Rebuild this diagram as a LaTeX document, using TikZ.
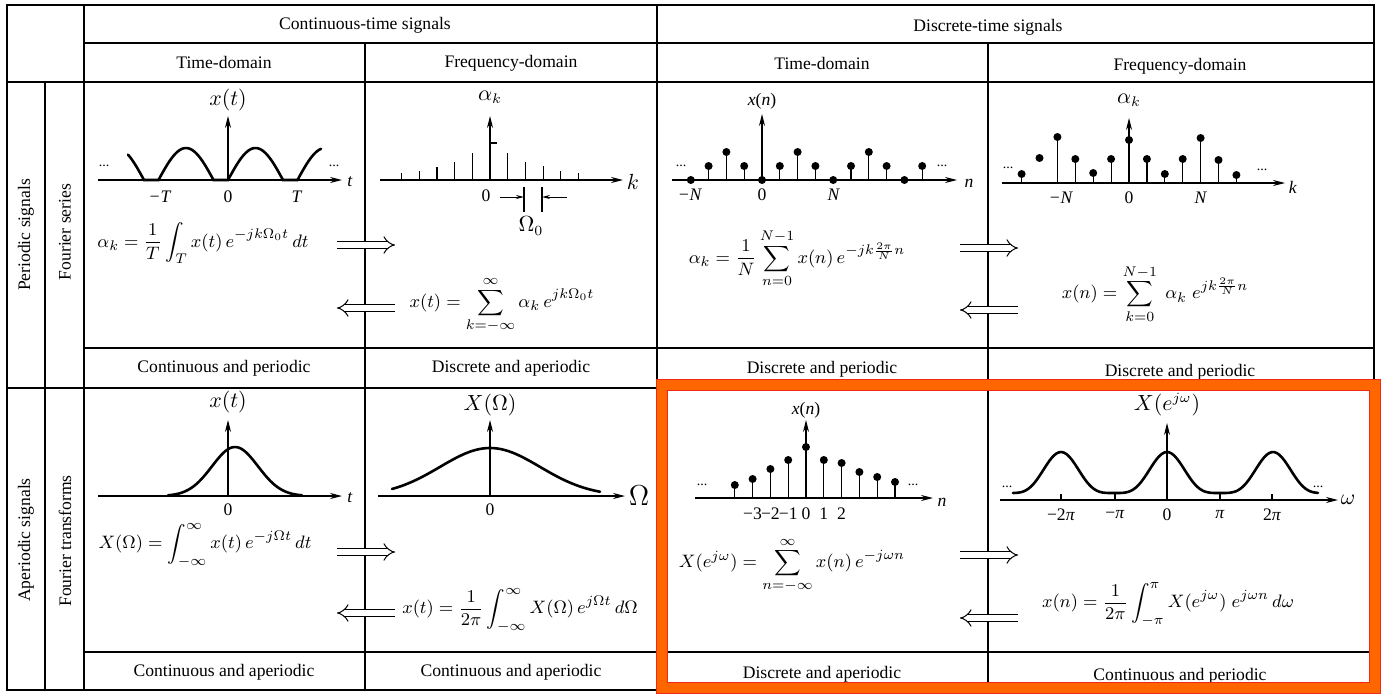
\documentclass[tikz,border=0pt]{standalone}
\usepackage{amsmath}
\usepackage{fontspec}
\setmainfont{Liberation Serif}
\usetikzlibrary{arrows.meta}

\definecolor{hilite}{RGB}{255,102,0}
\definecolor{hiliteedge}{RGB}{240,40,20}

\begin{document}
\begin{tikzpicture}[x=0.5pt, y=-0.5pt,
    grid/.style={line width=1.1pt},
    hdr/.style={font=\fontsize{8.8}{10}\selectfont},
    side/.style={font=\fontsize{8.8}{10}\selectfont, rotate=90},
    lbl/.style={font=\fontsize{8.8}{10}\selectfont, inner sep=1pt},
    big/.style={font=\fontsize{10.5}{12}\selectfont, inner sep=1pt},
    frm/.style={font=\fontsize{9.5}{11}\selectfont, inner sep=1pt},
    axis/.style={line width=0.6pt, -{Stealth[length=6pt, width=3pt]}},
    sig/.style={line width=1.3pt, line cap=round},
    stem/.style={line width=0.6pt},
    gap/.style={line width=0.5pt, -{Stealth[length=4pt, width=2pt]}},
    dblarrow/.style={double, double distance=2.6pt, line width=0.5pt, -{Implies}},
    dotsgn/.style={font=\fontsize{7}{8}\selectfont, inner sep=0pt}]
  \useasboundingbox (0,0) rectangle (1385,696);

  % table frame
  \draw[grid] (7,5) rectangle (1374,690);
  \draw[grid] (84,5) -- (84,690);
  \draw[grid] (657,5) -- (657,690);
  \draw[grid] (365,43) -- (365,690);
  \draw[grid] (988,43) -- (988,690);
  \draw[grid] (45,82) -- (45,690);
  \draw[grid] (84,43) -- (1374,43);
  \draw[grid] (7,82) -- (1374,82);
  \draw[grid] (84,348) -- (1374,348);
  \draw[grid] (7,388) -- (1374,388);
  \draw[grid] (84,652) -- (1374,652);

  % headers
  \node[hdr] (hct) at (365,25) {Continuous-time signals};
  \node[hdr] (hdt) at (988,27) {Discrete-time signals};
  \node[hdr] (hctt) at (224,62) {Time-domain};
  \node[hdr] (hctf) at (511,63) {Frequency-domain};
  \node[hdr] (hdtt) at (822,63) {Time-domain};
  \node[hdr] (hdtf) at (1180,66) {Frequency-domain};

  % row labels
  \node[side] (sper) at (26,235) {Periodic signals};
  \node[side] (sfs) at (65,232) {Fourier series};
  \node[side] (saper) at (26,540) {Aperiodic signals};
  \node[side] (sft) at (65,541) {Fourier transforms};

  % cell captions
  \node[hdr] (bctt) at (224,368) {Continuous and periodic};
  \node[hdr] (bctf) at (511,368) {Discrete and aperiodic};
  \node[hdr] (bdtt) at (822,369) {Discrete and periodic};
  \node[hdr] (bdtf) at (1180,372) {Discrete and periodic};
  \node[hdr] (cctt) at (224,672) {Continuous and aperiodic};
  \node[hdr] (cctf) at (511,672) {Continuous and aperiodic};
  \node[hdr] (cdtt) at (822,674) {Discrete and aperiodic};
  \node[hdr] (cdtf) at (1180,676) {Continuous and periodic};

  % periodic, continuous time
  \draw[axis] (98,180) -- (342,180);
  \draw[axis] (228,180) -- (228,116);
  \node[lbl] (pct) at (350,182) {\textit{t}};
  \node[big] (pcx) at (228,100) {$x(t)$};
  \draw[sig] plot[domain=128:144, samples=10] (\x,{180-32*sin(180*(\x-89)/55)}) -- (158.5,180)
    -- plot[domain=158.5:213.5, samples=30] (\x,{180-32*sin(180*(\x-158.5)/55)}) -- (228,180)
    -- plot[domain=228:283, samples=30] (\x,{180-32*sin(180*(\x-228)/55)}) -- (297.5,180)
    -- plot[domain=297.5:321, samples=14] (\x,{180-32*sin(180*(\x-297.5)/55)});
  \node[lbl] (pcmT) at (160,197) {\textit{−T}};
  \node[lbl] (pc0) at (228,197) {0};
  \node[lbl] (pcT) at (297,197) {\textit{T}};
  \node[dotsgn] (pcdl) at (104,166) {...};
  \node[dotsgn] (pcdr) at (334,166) {...};
  \node[frm] (pcf) at (203,243) {$\alpha_k=\dfrac{1}{T}\displaystyle\int_{T}x(t)\,e^{-jk\Omega_0 t}\,dt$};

  % periodic, continuous frequency
  \draw[axis] (380,180) -- (623,180);
  \draw[axis] (490,180) -- (490,116);
  \node[big] (pfk) at (633,182) {$k$};
  \node[big] (pfa) at (490,97) {$\alpha_k$};
  \draw[stem] (490,143) -- (497,143);
  \foreach \i/\h in {-5/7,-4/9,-3/13,-2/18,-1/27,1/27,2/18,3/14,4/9,5/7}
    \draw[stem] ({490+17.7*\i},180) -- ++(0,-\h);
  \node[lbl] (pf0) at (486,196) {0};
  \draw[stem] (524,187) -- (524,212);
  \draw[stem] (542,187) -- (542,212);
  \draw[gap] (500,197) -- (524,197);
  \draw[gap] (567,197) -- (542,197);
  \node[big] (pfw) at (531,226) {$\Omega_0$};
  \node[frm] (pff) at (502,305) {$x(t)=\displaystyle\sum_{k=-\infty}^{\infty}\alpha_k\,e^{jk\Omega_0 t}$};

  \coordinate (pa1) at (337,245);
  \coordinate (pa2) at (395,245);
  \draw[dblarrow] (pa1) -- (pa2);
  \coordinate (pa3) at (395,308);
  \coordinate (pa4) at (337,308);
  \draw[dblarrow] (pa3) -- (pa4);

  % periodic, discrete time
  \draw[axis] (672,180) -- (957,180);
  \draw[axis] (762,180) -- (762,114);
  \node[lbl] (pdn) at (969,183) {\textit{n}};
  \node[lbl] (pdx) at (762,101) {\textit{x}(\textit{n})};
  \foreach \n/\h in {-4/0,-3/14,-2/28,-1/14,0/0,1/14,2/28,3/14,4/0,5/14,6/28,7/14,8/0,9/14} {
    \draw[stem] ({762+17.8*\n},180) -- ++(0,-\h);
    \fill ({762+17.8*\n},{180-\h}) circle (2pt);
  }
  \node[lbl] (pdmN) at (690,195) {\textit{−N}};
  \node[lbl] (pd0) at (762,195) {0};
  \node[lbl] (pdN) at (834,195) {\textit{N}};
  \node[dotsgn] (pddl) at (681,166) {...};
  \node[dotsgn] (pddr) at (942,166) {...};
  \node[frm] (pdf) at (797,258) {$\alpha_k=\dfrac{1}{N}\displaystyle\sum_{n=0}^{N-1}x(n)\,e^{-jk\frac{2\pi}{N}n}$};

  % periodic, discrete frequency
  \draw[axis] (1002,183) -- (1285,183);
  \draw[axis] (1129,183) -- (1129,118);
  \node[lbl] (pgk) at (1293,187) {\textit{k}};
  \node[big] (pga) at (1129,100) {$\alpha_k$};
  \foreach \m/\h in {-6/9,-4/46,-3/24,-2/10,-1/24,0/43,1/24,2/9,3/24,4/45,5/23,6/8} {
    \draw[stem] ({1129+17.9*\m},183) -- ++(0,-\h);
    \fill ({1129+17.9*\m},{183-\h}) circle (2pt);
  }
  \fill ({1129-17.9*5},158) circle (2pt);
  \node[lbl] (pgmN) at (1061,198) {\textit{−N}};
  \node[lbl] (pg0) at (1129,198) {0};
  \node[lbl] (pgN) at (1201,198) {\textit{N}};
  \node[dotsgn] (pgdl) at (1008,168) {...};
  \node[dotsgn] (pgdr) at (1262,170) {...};
  \node[frm] (pgf) at (1155,294) {$x(n)=\displaystyle\sum_{k=0}^{N-1}\;\alpha_k\;e^{jk\frac{2\pi}{N}n}$};

  \coordinate (pb1) at (960,248);
  \coordinate (pb2) at (1018,248);
  \draw[dblarrow] (pb1) -- (pb2);
  \coordinate (pb3) at (1018,310);
  \coordinate (pb4) at (960,310);
  \draw[dblarrow] (pb3) -- (pb4);

  % aperiodic, continuous time
  \draw[axis] (98,496) -- (342,496);
  \draw[axis] (228,496) -- (228,420);
  \node[lbl] (act) at (350,498) {\textit{t}};
  \node[big] (acx) at (228,402) {$x(t)$};
  \draw[sig] plot[domain=168:302, samples=60] (\x,{496-49*exp(-0.5*((\x-235)/23)^2)});
  \node[lbl] (ac0) at (228,510) {0};
  \node[frm] (acf) at (205,545) {$X(\Omega)=\displaystyle\int_{-\infty}^{\infty}x(t)\,e^{-j\Omega t}\,dt$};

  % aperiodic, continuous frequency
  \draw[axis] (378,496) -- (625,496);
  \draw[axis] (490,496) -- (490,420);
  \node[lbl, font=\Large] (afw) at (639,496) {$\Omega$};
  \node[big] (afx) at (490,405) {$X(\Omega)$};
  \draw[sig] plot[domain=392:600, samples=60] (\x,{496-48*exp(-0.5*((\x-490)/50)^2)});
  \node[lbl] (af0) at (490,510) {0};
  \node[frm] (aff) at (520,610) {$x(t)=\dfrac{1}{2\pi}\displaystyle\int_{-\infty}^{\infty}X(\Omega)\,e^{j\Omega t}\,d\Omega$};

  \coordinate (aa1) at (337,552);
  \coordinate (aa2) at (395,552);
  \draw[dblarrow] (aa1) -- (aa2);
  \coordinate (aa3) at (395,613);
  \coordinate (aa4) at (337,613);
  \draw[dblarrow] (aa3) -- (aa4);

  % aperiodic, discrete time
  \draw[axis] (695,498) -- (933,498);
  \draw[axis] (806,498) -- (806,420);
  \node[lbl] (adn) at (942,502) {\textit{n}};
  \node[lbl] (adx) at (806,410) {\textit{x}(\textit{n})};
  \foreach \n/\h in {-4/13,-3/19,-2/29,-1/38,0/51,1/38,2/35,3/26,4/21,5/16} {
    \draw[stem] ({806+17.8*\n},498) -- ++(0,-\h);
    \fill ({806+17.8*\n},{498-\h}) circle (2pt);
  }
  \foreach \n/\t in {-3/−3,-2/−2,-1/−1,0/0,1/1,2/2}
    \node[lbl, inner sep=0pt] (adl\n) at ({806+17.8*\n},514) {\t};
  \node[dotsgn] (addl) at (702,485) {...};
  \node[dotsgn] (addr) at (913,485) {...};
  \node[frm] (adf) at (792,565) {$X(e^{j\omega})=\displaystyle\sum_{n=-\infty}^{\infty}x(n)\,e^{-j\omega n}$};

  % aperiodic, discrete frequency
  \draw[axis] (1000,500) -- (1338,500);
  \draw[axis] (1167,500) -- (1167,423);
  \node[big] (agw) at (1348,500) {$\omega$};
  \node[big] (agx) at (1167,405) {$X(e^{j\omega})$};
  \draw[sig] plot[domain=1013:1318, samples=120] (\x,{500-7-41*((1+cos(3.3962*(\x-1167)))/2)^2});
  \foreach \p in {1061,1115,1220,1272}
    \draw[stem] (\p,500) -- ++(0,-6);
  \node[lbl] (agm2) at (1061,515) {−2\textit{π}};
  \node[lbl] (agm1) at (1115,515) {−\textit{π}};
  \node[lbl] (ag0) at (1167,515) {0};
  \node[lbl] (agp1) at (1220,515) {\textit{π}};
  \node[lbl] (agp2) at (1272,515) {2\textit{π}};
  \node[dotsgn] (agdl) at (1007,487) {...};
  \node[dotsgn] (agdr) at (1318,487) {...};
  \node[frm] (agf) at (1168,604) {$x(n)=\dfrac{1}{2\pi}\displaystyle\int_{-\pi}^{\pi}X(e^{j\omega})\;e^{j\omega n}\,d\omega$};

  \coordinate (ab1) at (960,555);
  \coordinate (ab2) at (1018,555);
  \draw[dblarrow] (ab1) -- (ab2);
  \coordinate (ab3) at (1018,618);
  \coordinate (ab4) at (960,618);
  \draw[dblarrow] (ab3) -- (ab4);

  % highlight
  \draw[hilite, line width=5.5pt] (662,385) rectangle (1374.5,687.5);
  \draw[hiliteedge, line width=0.5pt] (656.5,379.5) rectangle (1380,693);
  \draw[hiliteedge, line width=0.5pt] (667.5,390.5) rectangle (1369,682);
\end{tikzpicture}
\end{document}
